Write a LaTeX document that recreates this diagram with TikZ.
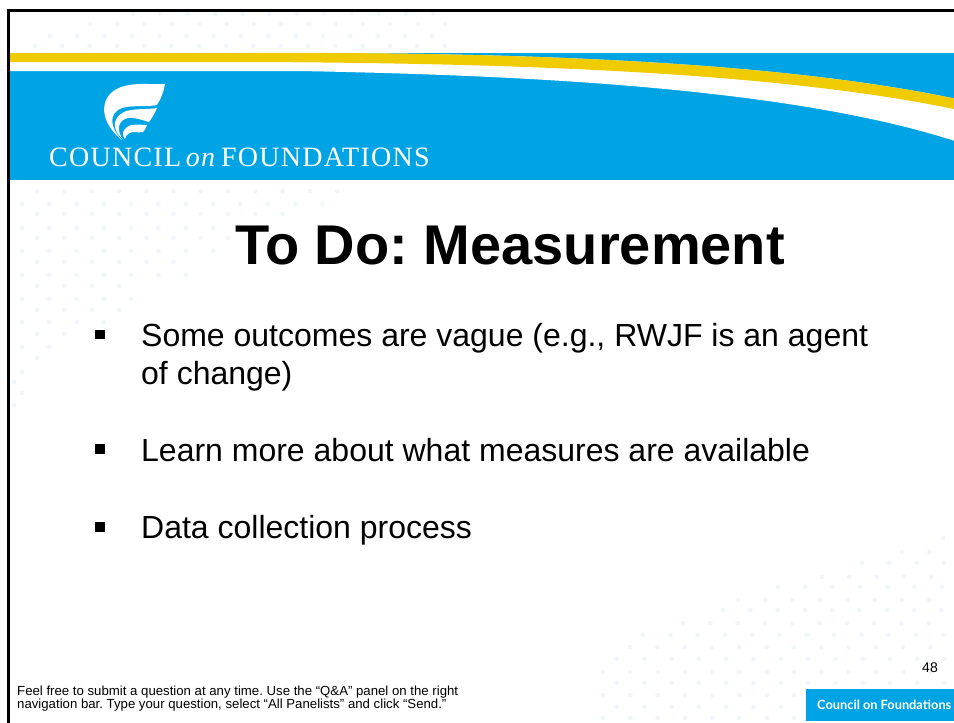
\documentclass[tikz,border=0pt]{standalone}
\usepackage{fontspec}
\setmainfont{Liberation Sans}
\newfontfamily\serifcap[LetterSpace=4.5]{Liberation Serif}
\newfontfamily\footfont{Lato}
\definecolor{cofblue}{HTML}{00A4E4}
\definecolor{cofyellow}{HTML}{F0CB00}
\definecolor{dotcol}{HTML}{F0F6FA}
\tikzset{
  bulletmark/.style={fill=black,minimum size=9.5pt,inner sep=0pt},
  bodytext/.style={anchor=base west,font=\fontsize{32}{38}\selectfont,inner sep=0pt},
  smalltext/.style={anchor=base west,font=\fontsize{13.2}{15}\selectfont,inner sep=0pt},
  dotmark/.style={fill=dotcol}
}
\frenchspacing
\begin{document}
\begin{tikzpicture}[x=1pt,y=-1pt]
\useasboundingbox (0,0) rectangle (954,723);
\fill[white] (0,0) rectangle (954,723);
% faint dots: row y / first x / last x
\foreach \yy/\xa/\xb in {14/133/440,24/90/450,36/50/435,46/35/450,
  191/37/340,204/22/330,214/37/285,228/22/275,238/37/240,251/22/215,262/37/200,275/22/188,286/37/145,299/22/133,310/37/120,322/22/105,334/37/65,347/22/52,358/37/38,372/22/25,382/14/16,393/22/25,405/14/16,
  538/943/954,552/902/954,563/862/954,577/822/954,587/778/954,600/738/954,610/723/954,623/683/954,635/643/954,647/630/954,659/617/954,672/603/954,683/617/954,695/603/954,707/617/954,718/603/954}{
  \pgfmathsetmacro{\nn}{int((\xb-\xa)/27.3)}
  \foreach \i in {0,...,\nn}{
    \fill[dotmark] (\xa+27.3*\i,\yy) circle (2.4);
  }
}
% banner
\fill[cofblue] (9,53) rectangle (954,180);
\fill[white] (9,53) -- (250,53) .. controls (500,52) and (770,60) .. (954,98.5) -- (954,140.7)
  .. controls (780,85) and (500,75) .. (300,71) -- (9,71) -- cycle;
\fill[cofyellow] (9,53) -- (250,53) .. controls (500,52) and (770,60) .. (954,98.5) -- (954,109)
  .. controls (770,71) and (500,63) .. (250,62) -- (9,62) -- cycle;
% logo feather
\fill[white] (165,84) .. controls (150,85) and (130,81) .. (115,90) .. controls (100,99) and (99,122) .. (122,140)
  .. controls (110,128) and (108,113) .. (122,108) .. controls (132,105) and (148,107) .. (157,105) .. controls (161,99) and (164,91) .. (165,84) -- cycle;
\fill[white] (157,108) .. controls (146,110) and (132,108) .. (124,112) .. controls (112,118) and (112,130) .. (123,139.5)
  .. controls (116,130) and (118,120) .. (128,118) .. controls (134,117) and (142,120) .. (149,122) .. controls (152,118) and (155,113) .. (157,108) -- cycle;
\fill[white] (147,125) .. controls (140,125) and (132,123) .. (127,127) .. controls (122,131) and (122,135) .. (125,139)
  .. controls (126,134) and (130,132) .. (134,132) .. controls (138,132) and (141,133) .. (143,132) .. controls (145,130) and (146,128) .. (147,125) -- cycle;
\node[anchor=base west,inner sep=0pt,text=white,font=\serifcap\fontsize{28}{28}\selectfont] (logotext) at (49,166.5) {COUNCIL\,\textit{on}\,FOUNDATIONS};
% frame
\draw[line width=3pt] (954,10.5) -- (8,10.5) -- (8,723);
% title and bullets
\node[anchor=base,inner sep=0pt,font=\bfseries\fontsize{56}{60}\selectfont] (title) at (510,264) {To Do: Measurement};
\node[bulletmark] (b1) at (100,334.5) {};
\node[bodytext] (t1) at (141,346) {Some outcomes are vague (e.g., RWJF is an agent};
\node[bodytext] (t1b) at (141,384) {of change)};
\node[bulletmark] (b2) at (100,449) {};
\node[bodytext] (t2) at (141,461.5) {Learn more about what measures are available};
\node[bulletmark] (b3) at (100,527) {};
\node[bodytext] (t3) at (141,538) {Data collection process};
% footer
\node[smalltext] (note) at (17,695) {Feel free to submit a question at any time. Use the “Q\&A” panel on the right};
\node[smalltext] (note2) at (17,708) {navigation bar. Type your question, select “All Panelists” and click “Send.”};
\node[anchor=base east,inner sep=0pt,font=\fontsize{14}{16}\selectfont] (pagenum) at (938,672) {48};
\fill[cofblue] (806,689) rectangle (954,721);
\node[anchor=base west,inner sep=0pt,text=white,font=\footfont\bfseries\fontsize{12.8}{14}\selectfont] (foot) at (817,709) {Council on Foundations};
\end{tikzpicture}
\end{document}
